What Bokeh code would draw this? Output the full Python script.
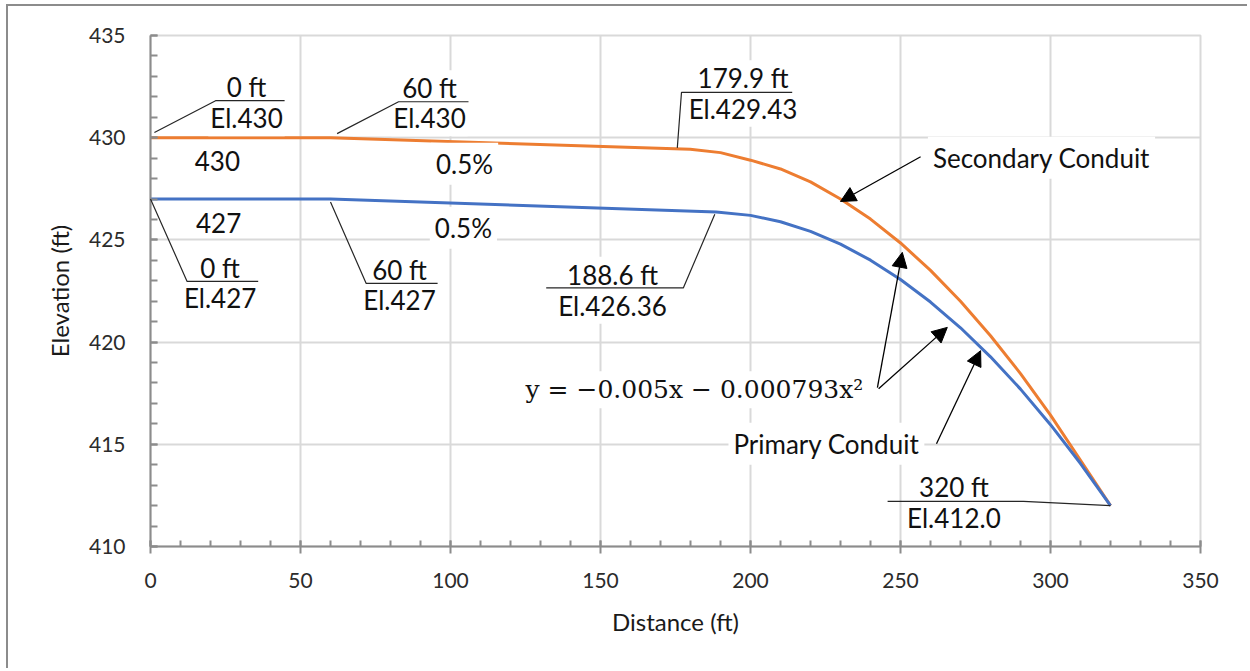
from bokeh.plotting import figure
from bokeh.models import Range1d, Label, Arrow, NormalHead, SingleIntervalTicker
from bokeh.embed import file_html
from bokeh.resources import INLINE

# ---------------- data ----------------
secondary_distance = [0, 60, 179.9, 190, 200, 210, 220, 230, 240, 250, 260, 270, 280, 290, 300, 310, 320]
secondary_elev = [430.0, 430.0, 429.43, 429.27, 428.9, 428.47, 427.84, 427.0, 426.02, 424.85, 423.51,
                  422.0, 420.31, 418.46, 416.43, 414.22, 412.0]
primary_distance = [0, 60, 188.6, 200, 210, 220, 230, 240, 250, 260, 270, 280, 290, 300, 310, 320]
primary_elev = [427.0, 427.0, 426.36, 426.2, 425.89, 425.42, 424.79, 424.01, 423.06, 421.96, 420.7,
                419.28, 417.7, 415.96, 414.06, 412.0]

x_ticks_interval = 50
y_ticks_interval = 5

# callouts: (top text, bottom text, text x, top y, bottom y, leader path xs, leader path ys)
callouts = [
    ("0 ft", "El.430", 32.0, 432.5, 430.95, [1.3, 21.7, 44.7], [430.25, 431.81, 431.81]),
    ("60 ft", "El.430", 93.0, 432.42, 430.95, [62.2, 82.7, 106.0], [430.2, 431.76, 431.76]),
    ("179.9 ft", "El.429.43", 197.5, 432.91, 431.42, [175.6, 177.0, 213.9], [429.5, 432.22, 432.22]),
    ("0 ft", "El.427", 23.2, 423.62, 422.15, [0.0, 12.2, 35.9], [427.0, 422.97, 422.97]),
    ("60 ft", "El.427", 83.0, 423.52, 422.07, [60.0, 71.9, 95.7], [426.85, 422.87, 422.87]),
    ("188.6 ft", "El.426.36", 154.0, 423.3, 421.78, [188.1, 177.6, 131.9], [426.25, 422.65, 422.65]),
    ("320 ft", "El.412.0", 267.8, 412.93, 411.38, [320.0, 291.0, 245.7], [412.0, 412.21, 412.21]),
]

plain_labels = [
    ("430", 22.3, 428.87),
    ("427", 22.7, 425.84),
    ("0.5%", 104.7, 428.73),
    ("0.5%", 104.3, 425.6),
    ("Secondary Conduit", 297.0, 429.02),
    ("Primary Conduit", 225.3, 415.03),
]

arrows = [
    (256.7, 429.07, 230.0, 426.88),
    (242.3, 417.77, 250.6, 424.39),
    (242.7, 417.72, 265.6, 420.72),
    (262.0, 415.03, 276.7, 419.58),
]

FONT = "Lato"
ORANGE = "#ED7D31"
BLUE = "#4472C4"

p = figure(width=1241, height=664, output_backend="svg", toolbar_location=None,
           x_range=Range1d(0, 350), y_range=Range1d(410, 435),
           min_border_left=142, min_border_right=49, min_border_top=29, min_border_bottom=124)
p.styles = {"border-top": "2px solid #8c8c8c", "border-left": "2px solid #8c8c8c",
            "margin-left": "6px", "margin-top": "4px"}

p.outline_line_color = "#d9d9d9"
p.outline_line_width = 2
p.background_fill_color = "white"
p.border_fill_color = "white"

p.xaxis.ticker = SingleIntervalTicker(interval=x_ticks_interval, num_minor_ticks=5)
p.yaxis.ticker = SingleIntervalTicker(interval=y_ticks_interval, num_minor_ticks=5)
p.xgrid.ticker = p.xaxis.ticker
p.ygrid.ticker = p.yaxis.ticker

for ax in (p.xaxis, p.yaxis):
    ax.axis_line_color = "#8c8c8c"
    ax.axis_line_width = 2
    ax.major_tick_line_color = "#8c8c8c"
    ax.minor_tick_line_color = "#8c8c8c"
    ax.major_tick_line_width = 2
    ax.minor_tick_line_width = 2
    ax.major_label_text_font = FONT
    ax.major_label_text_font_size = "21px"
    ax.major_label_text_color = "#2b2b2b"
    ax.axis_label_text_font = FONT
    ax.axis_label_text_font_size = "24px"
    ax.axis_label_text_font_style = "normal"
    ax.axis_label_text_color = "#1a1a1a"

p.xaxis.major_tick_in = 6
p.xaxis.major_tick_out = 7
p.xaxis.minor_tick_in = 6
p.xaxis.minor_tick_out = 0
p.xaxis.major_label_standoff = 19
p.xaxis.axis_label = "Distance (ft)"
p.xaxis.axis_label_standoff = 16

p.yaxis.major_tick_in = 7
p.yaxis.major_tick_out = 0
p.yaxis.minor_tick_in = 7
p.yaxis.minor_tick_out = 0
p.yaxis.major_label_standoff = 25
p.yaxis.axis_label = "Elevation (ft)"
p.yaxis.axis_label_standoff = 12

p.grid.grid_line_color = "#d9d9d9"
p.grid.grid_line_width = 2

# conduit profiles
p.line(secondary_distance, secondary_elev, line_color=ORANGE, line_width=3)
p.line(primary_distance, primary_elev, line_color=BLUE, line_width=3)

# plain labels with white background
for txt, x, y in plain_labels:
    p.add_layout(Label(x=x, y=y, text=txt, text_align="center", text_baseline="middle",
                       text_font=FONT, text_font_size="26px", text_color="#111111",
                       background_fill_color="white", padding=5))

# equation
p.add_layout(Label(x=181.3, y=417.67, text="y = −0.005x − 0.000793x²", text_align="center",
                   text_baseline="middle", text_font="DejaVu Serif", text_font_size="25px",
                   text_color="#111111", background_fill_color="white", padding=4))

# callouts
for top, bottom, tx, ty, by, lx, ly in callouts:
    p.add_layout(Label(x=tx, y=ty, text=top, text_align="center", text_baseline="middle",
                       text_font=FONT, text_font_size="26px", text_color="#111111",
                       background_fill_color="white", padding=2))
    p.add_layout(Label(x=tx, y=by, text=bottom, text_align="center", text_baseline="middle",
                       text_font=FONT, text_font_size="26px", text_color="#111111",
                       background_fill_color="white", padding=2))
    p.line(lx, ly, line_color="#262626", line_width=1.2, level="overlay")

for xs, ys, xe, ye in arrows:
    p.add_layout(Arrow(x_start=xs, y_start=ys, x_end=xe, y_end=ye, line_color="black", line_width=1.3,
                       end=NormalHead(size=15, fill_color="black", line_color="black"), level="overlay"))

open("out.html", "w").write(file_html(p, INLINE))
